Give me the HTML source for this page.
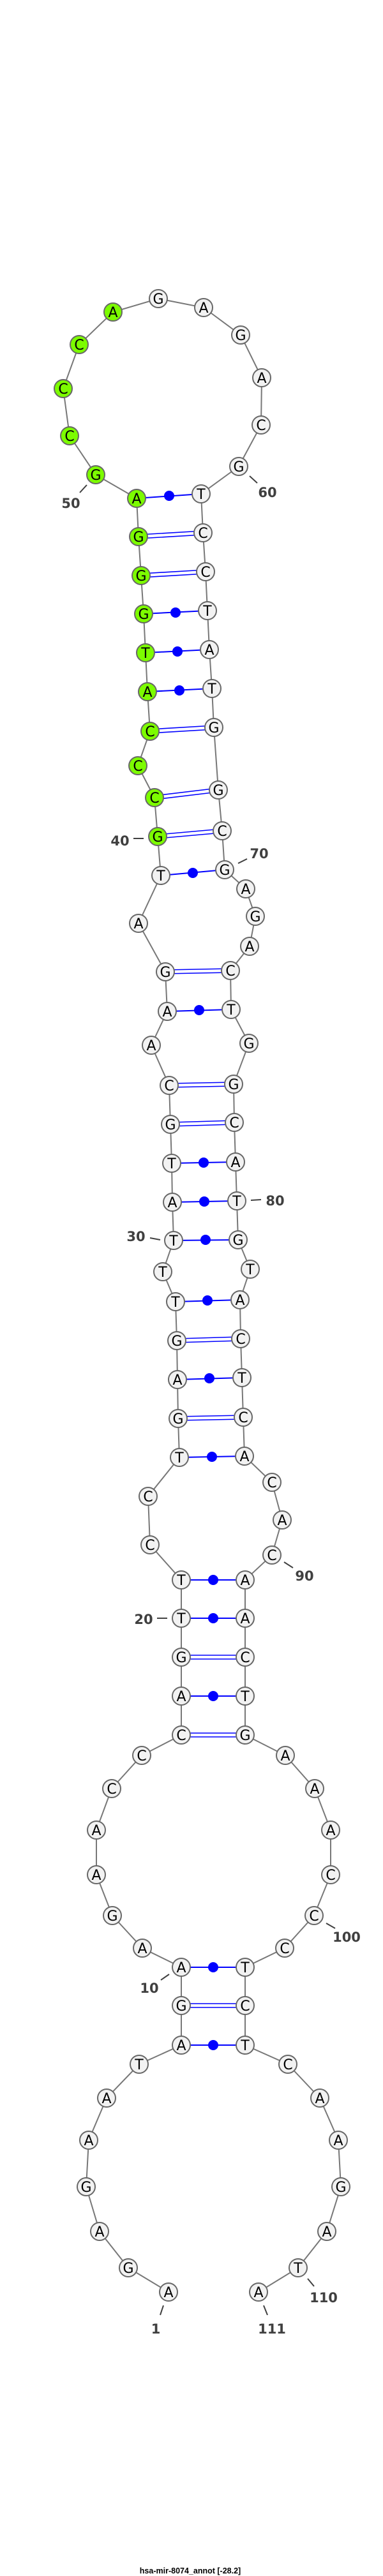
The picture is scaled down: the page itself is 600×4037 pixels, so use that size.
<!DOCTYPE html>
<html><head><meta charset="utf-8"><style>
html,body{margin:0;padding:0;background:#fff}
svg{display:block}
.n circle{stroke:#676767;stroke-width:2}
.w{fill:#f2f2f2}.g{fill:#7cfc00}
.n text{font-family:"DejaVu Sans","Liberation Sans",sans-serif;font-size:22px;text-anchor:middle;fill:#000}
.lb{font-family:"DejaVu Sans","Liberation Sans",sans-serif;font-size:21px;font-weight:bold;fill:#404040;text-anchor:middle}
.tk{stroke:#404040;stroke-width:2}
.d{stroke:#0000ff;stroke-width:2}
.db{stroke:#0000ff;stroke-width:1.6}
</style></head><body>
<svg width="600" height="4037" viewBox="0 0 600 4037" xmlns="http://www.w3.org/2000/svg">
<polyline fill="none" stroke="#777" stroke-width="2" points="264,3592 201,3554 156,3497 135,3427 139,3354 167,3288 218,3235 284,3205 284,3143 284,3083 223,3053 176,3002 151,2938 151,2868 175,2803 222,2751 284,2719 284,2658 284,2597 284,2536 284,2476 235,2421 232,2345 281,2284 279,2223 278,2162 277,2101 275,2040 255,1993 272,1944 270,1884 269,1823 267,1762 265,1701 237,1638 262,1585 259,1523 217,1447 252,1372 247,1311 242,1250 216,1200 235,1146 231,1084 228,1023 225,962 221,902 217,841 214,781 150,744 109,683 99,609 124,540 177,489 248,468 319,482 377,525 410,592 409,666 374,731 315,774 318,835 322,896 325,957 328,1018 332,1079 335,1140 342,1238 348,1302 352,1363 385,1393 400,1436 391,1483 361,1521 362,1582 390,1635 366,1699 367,1759 369,1821 371,1882 373,1943 392,1989 376,2037 377,2098 379,2159 381,2221 383,2282 426,2323 442,2382 426,2437 384,2476 384,2536 384,2597 384,2658 384,2719 447,2751 493,2803 518,2868 518,2938 492,3002 446,3053 384,3083 384,3143 384,3205 451,3235 501,3288 530,3354 534,3427 512,3497 467,3554 405,3592"/>
<!-- dot pairs -->
<g class="d">
<line x1="214" y1="781" x2="315" y2="774"/><circle cx="265" cy="777" r="8" fill="#00f" stroke="none"/>
<line x1="225" y1="962" x2="325" y2="957"/><circle cx="275" cy="960" r="8" fill="#00f" stroke="none"/>
<line x1="228" y1="1023" x2="328" y2="1018"/><circle cx="278" cy="1021" r="8" fill="#00f" stroke="none"/>
<line x1="231" y1="1084" x2="332" y2="1079"/><circle cx="281" cy="1082" r="8" fill="#00f" stroke="none"/>
<line x1="252" y1="1372" x2="352" y2="1363"/><circle cx="302" cy="1368" r="8" fill="#00f" stroke="none"/>
<line x1="262" y1="1585" x2="362" y2="1582"/><circle cx="312" cy="1583" r="8" fill="#00f" stroke="none"/>
<line x1="269" y1="1823" x2="369" y2="1821"/><circle cx="319" cy="1822" r="8" fill="#00f" stroke="none"/>
<line x1="270" y1="1884" x2="371" y2="1882"/><circle cx="320" cy="1883" r="8" fill="#00f" stroke="none"/>
<line x1="272" y1="1944" x2="373" y2="1943"/><circle cx="322" cy="1943" r="8" fill="#00f" stroke="none"/>
<line x1="275" y1="2040" x2="376" y2="2037"/><circle cx="325" cy="2038" r="8" fill="#00f" stroke="none"/>
<line x1="278" y1="2162" x2="379" y2="2159"/><circle cx="328" cy="2160" r="8" fill="#00f" stroke="none"/>
<line x1="281" y1="2284" x2="383" y2="2282"/><circle cx="332" cy="2283" r="8" fill="#00f" stroke="none"/>
<line x1="284" y1="2476" x2="384" y2="2476"/><circle cx="334" cy="2476" r="8" fill="#00f" stroke="none"/>
<line x1="284" y1="2536" x2="384" y2="2536"/><circle cx="334" cy="2536" r="8" fill="#00f" stroke="none"/>
<line x1="284" y1="2658" x2="384" y2="2658"/><circle cx="334" cy="2658" r="8" fill="#00f" stroke="none"/>
<line x1="284" y1="3083" x2="384" y2="3083"/><circle cx="334" cy="3083" r="8" fill="#00f" stroke="none"/>
<line x1="284" y1="3205" x2="384" y2="3205"/><circle cx="334" cy="3205" r="8" fill="#00f" stroke="none"/>
</g>
<!-- double pairs -->
<g class="db">
<line x1="217" y1="838" x2="318" y2="832"/><line x1="217" y1="844" x2="318" y2="838"/>
<line x1="221" y1="899" x2="322" y2="893"/><line x1="221" y1="905" x2="322" y2="899"/>
<line x1="235" y1="1143" x2="335" y2="1137"/><line x1="235" y1="1149" x2="335" y2="1143"/>
<line x1="242" y1="1247" x2="342" y2="1235"/><line x1="242" y1="1253" x2="342" y2="1241"/>
<line x1="247" y1="1308" x2="348" y2="1299"/><line x1="247" y1="1314" x2="348" y2="1305"/>
<line x1="259" y1="1520" x2="361" y2="1518"/><line x1="259" y1="1526" x2="361" y2="1524"/>
<line x1="265" y1="1698" x2="366" y2="1696"/><line x1="265" y1="1704" x2="366" y2="1702"/>
<line x1="267" y1="1759" x2="367" y2="1756"/><line x1="267" y1="1765" x2="367" y2="1762"/>
<line x1="277" y1="2098" x2="377" y2="2095"/><line x1="277" y1="2104" x2="377" y2="2101"/>
<line x1="279" y1="2220" x2="381" y2="2218"/><line x1="279" y1="2226" x2="381" y2="2224"/>
<line x1="284" y1="2594" x2="384" y2="2594"/><line x1="284" y1="2600" x2="384" y2="2600"/>
<line x1="284" y1="2716" x2="384" y2="2716"/><line x1="284" y1="2722" x2="384" y2="2722"/>
<line x1="284" y1="3140" x2="384" y2="3140"/><line x1="284" y1="3146" x2="384" y2="3146"/>
</g>
<!-- nodes -->
<g class="n">
<g transform="translate(264,3592)"><circle class="w" r="14"/><text y="8">A</text></g>
<g transform="translate(201,3554)"><circle class="w" r="14"/><text y="8">G</text></g>
<g transform="translate(156,3497)"><circle class="w" r="14"/><text y="8">A</text></g>
<g transform="translate(135,3427)"><circle class="w" r="14"/><text y="8">G</text></g>
<g transform="translate(139,3354)"><circle class="w" r="14"/><text y="8">A</text></g>
<g transform="translate(167,3288)"><circle class="w" r="14"/><text y="8">A</text></g>
<g transform="translate(218,3235)"><circle class="w" r="14"/><text y="8">T</text></g>
<g transform="translate(284,3205)"><circle class="w" r="14"/><text y="8">A</text></g>
<g transform="translate(284,3143)"><circle class="w" r="14"/><text y="8">G</text></g>
<g transform="translate(284,3083)"><circle class="w" r="14"/><text y="8">A</text></g>
<g transform="translate(223,3053)"><circle class="w" r="14"/><text y="8">A</text></g>
<g transform="translate(176,3002)"><circle class="w" r="14"/><text y="8">G</text></g>
<g transform="translate(151,2938)"><circle class="w" r="14"/><text y="8">A</text></g>
<g transform="translate(151,2868)"><circle class="w" r="14"/><text y="8">A</text></g>
<g transform="translate(175,2803)"><circle class="w" r="14"/><text y="8">C</text></g>
<g transform="translate(222,2751)"><circle class="w" r="14"/><text y="8">C</text></g>
<g transform="translate(284,2719)"><circle class="w" r="14"/><text y="8">C</text></g>
<g transform="translate(284,2658)"><circle class="w" r="14"/><text y="8">A</text></g>
<g transform="translate(284,2597)"><circle class="w" r="14"/><text y="8">G</text></g>
<g transform="translate(284,2536)"><circle class="w" r="14"/><text y="8">T</text></g>
<g transform="translate(284,2476)"><circle class="w" r="14"/><text y="8">T</text></g>
<g transform="translate(235,2421)"><circle class="w" r="14"/><text y="8">C</text></g>
<g transform="translate(232,2345)"><circle class="w" r="14"/><text y="8">C</text></g>
<g transform="translate(281,2284)"><circle class="w" r="14"/><text y="8">T</text></g>
<g transform="translate(279,2223)"><circle class="w" r="14"/><text y="8">G</text></g>
<g transform="translate(278,2162)"><circle class="w" r="14"/><text y="8">A</text></g>
<g transform="translate(277,2101)"><circle class="w" r="14"/><text y="8">G</text></g>
<g transform="translate(275,2040)"><circle class="w" r="14"/><text y="8">T</text></g>
<g transform="translate(255,1993)"><circle class="w" r="14"/><text y="8">T</text></g>
<g transform="translate(272,1944)"><circle class="w" r="14"/><text y="8">T</text></g>
<g transform="translate(270,1884)"><circle class="w" r="14"/><text y="8">A</text></g>
<g transform="translate(269,1823)"><circle class="w" r="14"/><text y="8">T</text></g>
<g transform="translate(267,1762)"><circle class="w" r="14"/><text y="8">G</text></g>
<g transform="translate(265,1701)"><circle class="w" r="14"/><text y="8">C</text></g>
<g transform="translate(237,1638)"><circle class="w" r="14"/><text y="8">A</text></g>
<g transform="translate(262,1585)"><circle class="w" r="14"/><text y="8">A</text></g>
<g transform="translate(259,1523)"><circle class="w" r="14"/><text y="8">G</text></g>
<g transform="translate(217,1447)"><circle class="w" r="14"/><text y="8">A</text></g>
<g transform="translate(252,1372)"><circle class="w" r="14"/><text y="8">T</text></g>
<g transform="translate(247,1311)"><circle class="g" r="14"/><text y="8">G</text></g>
<g transform="translate(242,1250)"><circle class="g" r="14"/><text y="8">C</text></g>
<g transform="translate(216,1200)"><circle class="g" r="14"/><text y="8">C</text></g>
<g transform="translate(235,1146)"><circle class="g" r="14"/><text y="8">C</text></g>
<g transform="translate(231,1084)"><circle class="g" r="14"/><text y="8">A</text></g>
<g transform="translate(228,1023)"><circle class="g" r="14"/><text y="8">T</text></g>
<g transform="translate(225,962)"><circle class="g" r="14"/><text y="8">G</text></g>
<g transform="translate(221,902)"><circle class="g" r="14"/><text y="8">G</text></g>
<g transform="translate(217,841)"><circle class="g" r="14"/><text y="8">G</text></g>
<g transform="translate(214,781)"><circle class="g" r="14"/><text y="8">A</text></g>
<g transform="translate(150,744)"><circle class="g" r="14"/><text y="8">G</text></g>
<g transform="translate(109,683)"><circle class="g" r="14"/><text y="8">C</text></g>
<g transform="translate(99,609)"><circle class="g" r="14"/><text y="8">C</text></g>
<g transform="translate(124,540)"><circle class="g" r="14"/><text y="8">C</text></g>
<g transform="translate(177,489)"><circle class="g" r="14"/><text y="8">A</text></g>
<g transform="translate(248,468)"><circle class="w" r="14"/><text y="8">G</text></g>
<g transform="translate(319,482)"><circle class="w" r="14"/><text y="8">A</text></g>
<g transform="translate(377,525)"><circle class="w" r="14"/><text y="8">G</text></g>
<g transform="translate(410,592)"><circle class="w" r="14"/><text y="8">A</text></g>
<g transform="translate(409,666)"><circle class="w" r="14"/><text y="8">C</text></g>
<g transform="translate(374,731)"><circle class="w" r="14"/><text y="8">G</text></g>
<g transform="translate(315,774)"><circle class="w" r="14"/><text y="8">T</text></g>
<g transform="translate(318,835)"><circle class="w" r="14"/><text y="8">C</text></g>
<g transform="translate(322,896)"><circle class="w" r="14"/><text y="8">C</text></g>
<g transform="translate(325,957)"><circle class="w" r="14"/><text y="8">T</text></g>
<g transform="translate(328,1018)"><circle class="w" r="14"/><text y="8">A</text></g>
<g transform="translate(332,1079)"><circle class="w" r="14"/><text y="8">T</text></g>
<g transform="translate(335,1140)"><circle class="w" r="14"/><text y="8">G</text></g>
<g transform="translate(342,1238)"><circle class="w" r="14"/><text y="8">G</text></g>
<g transform="translate(348,1302)"><circle class="w" r="14"/><text y="8">C</text></g>
<g transform="translate(352,1363)"><circle class="w" r="14"/><text y="8">G</text></g>
<g transform="translate(385,1393)"><circle class="w" r="14"/><text y="8">A</text></g>
<g transform="translate(400,1436)"><circle class="w" r="14"/><text y="8">G</text></g>
<g transform="translate(391,1483)"><circle class="w" r="14"/><text y="8">A</text></g>
<g transform="translate(361,1521)"><circle class="w" r="14"/><text y="8">C</text></g>
<g transform="translate(362,1582)"><circle class="w" r="14"/><text y="8">T</text></g>
<g transform="translate(390,1635)"><circle class="w" r="14"/><text y="8">G</text></g>
<g transform="translate(366,1699)"><circle class="w" r="14"/><text y="8">G</text></g>
<g transform="translate(367,1759)"><circle class="w" r="14"/><text y="8">C</text></g>
<g transform="translate(369,1821)"><circle class="w" r="14"/><text y="8">A</text></g>
<g transform="translate(371,1882)"><circle class="w" r="14"/><text y="8">T</text></g>
<g transform="translate(373,1943)"><circle class="w" r="14"/><text y="8">G</text></g>
<g transform="translate(392,1989)"><circle class="w" r="14"/><text y="8">T</text></g>
<g transform="translate(376,2037)"><circle class="w" r="14"/><text y="8">A</text></g>
<g transform="translate(377,2098)"><circle class="w" r="14"/><text y="8">C</text></g>
<g transform="translate(379,2159)"><circle class="w" r="14"/><text y="8">T</text></g>
<g transform="translate(381,2221)"><circle class="w" r="14"/><text y="8">C</text></g>
<g transform="translate(383,2282)"><circle class="w" r="14"/><text y="8">A</text></g>
<g transform="translate(426,2323)"><circle class="w" r="14"/><text y="8">C</text></g>
<g transform="translate(442,2382)"><circle class="w" r="14"/><text y="8">A</text></g>
<g transform="translate(426,2437)"><circle class="w" r="14"/><text y="8">C</text></g>
<g transform="translate(384,2476)"><circle class="w" r="14"/><text y="8">A</text></g>
<g transform="translate(384,2536)"><circle class="w" r="14"/><text y="8">A</text></g>
<g transform="translate(384,2597)"><circle class="w" r="14"/><text y="8">C</text></g>
<g transform="translate(384,2658)"><circle class="w" r="14"/><text y="8">T</text></g>
<g transform="translate(384,2719)"><circle class="w" r="14"/><text y="8">G</text></g>
<g transform="translate(447,2751)"><circle class="w" r="14"/><text y="8">A</text></g>
<g transform="translate(493,2803)"><circle class="w" r="14"/><text y="8">A</text></g>
<g transform="translate(518,2868)"><circle class="w" r="14"/><text y="8">A</text></g>
<g transform="translate(518,2938)"><circle class="w" r="14"/><text y="8">C</text></g>
<g transform="translate(492,3002)"><circle class="w" r="14"/><text y="8">C</text></g>
<g transform="translate(446,3053)"><circle class="w" r="14"/><text y="8">C</text></g>
<g transform="translate(384,3083)"><circle class="w" r="14"/><text y="8">T</text></g>
<g transform="translate(384,3143)"><circle class="w" r="14"/><text y="8">C</text></g>
<g transform="translate(384,3205)"><circle class="w" r="14"/><text y="8">T</text></g>
<g transform="translate(451,3235)"><circle class="w" r="14"/><text y="8">C</text></g>
<g transform="translate(501,3288)"><circle class="w" r="14"/><text y="8">A</text></g>
<g transform="translate(530,3354)"><circle class="w" r="14"/><text y="8">A</text></g>
<g transform="translate(534,3427)"><circle class="w" r="14"/><text y="8">G</text></g>
<g transform="translate(512,3497)"><circle class="w" r="14"/><text y="8">A</text></g>
<g transform="translate(467,3554)"><circle class="w" r="14"/><text y="8">T</text></g>
<g transform="translate(405,3592)"><circle class="w" r="14"/><text y="8">A</text></g>
</g>
<!-- number labels -->
<g class="tk">
<line x1="125" y1="772" x2="136" y2="760"/>
<line x1="391" y1="746" x2="403" y2="757"/>
<line x1="209" y1="1314" x2="225" y2="1314"/>
<line x1="373" y1="1353" x2="387" y2="1346"/>
<line x1="393" y1="1881" x2="409" y2="1880"/>
<line x1="235" y1="1940" x2="251" y2="1943"/>
<line x1="445" y1="2448" x2="459" y2="2457"/>
<line x1="246" y1="2536" x2="262" y2="2536"/>
<line x1="511" y1="3014" x2="525" y2="3022"/>
<line x1="252" y1="3103" x2="265" y2="3094"/>
<line x1="256" y1="3613" x2="251" y2="3628"/>
<line x1="413" y1="3613" x2="419" y2="3628"/>
<line x1="482" y1="3571" x2="492" y2="3583"/>
</g>
<g class="lb">
<text x="111" y="796">50</text>
<text x="419" y="779">60</text>
<text x="188" y="1325">40</text>
<text x="406" y="1345">70</text>
<text x="431" y="1889">80</text>
<text x="213" y="1945">30</text>
<text x="477" y="2477">90</text>
<text x="225" y="2545">20</text>
<text x="543" y="3043">100</text>
<text x="234" y="3123">10</text>
<text x="244" y="3657">1</text>
<text x="426" y="3657">111</text>
<text x="507" y="3608">110</text>
</g>
<text x="298" y="4033" font-family="Liberation Sans, sans-serif" font-size="12.5" font-weight="bold" text-anchor="middle" fill="#000">hsa-mir-8074_annot [-28.2]</text>
</svg>
</body></html>
